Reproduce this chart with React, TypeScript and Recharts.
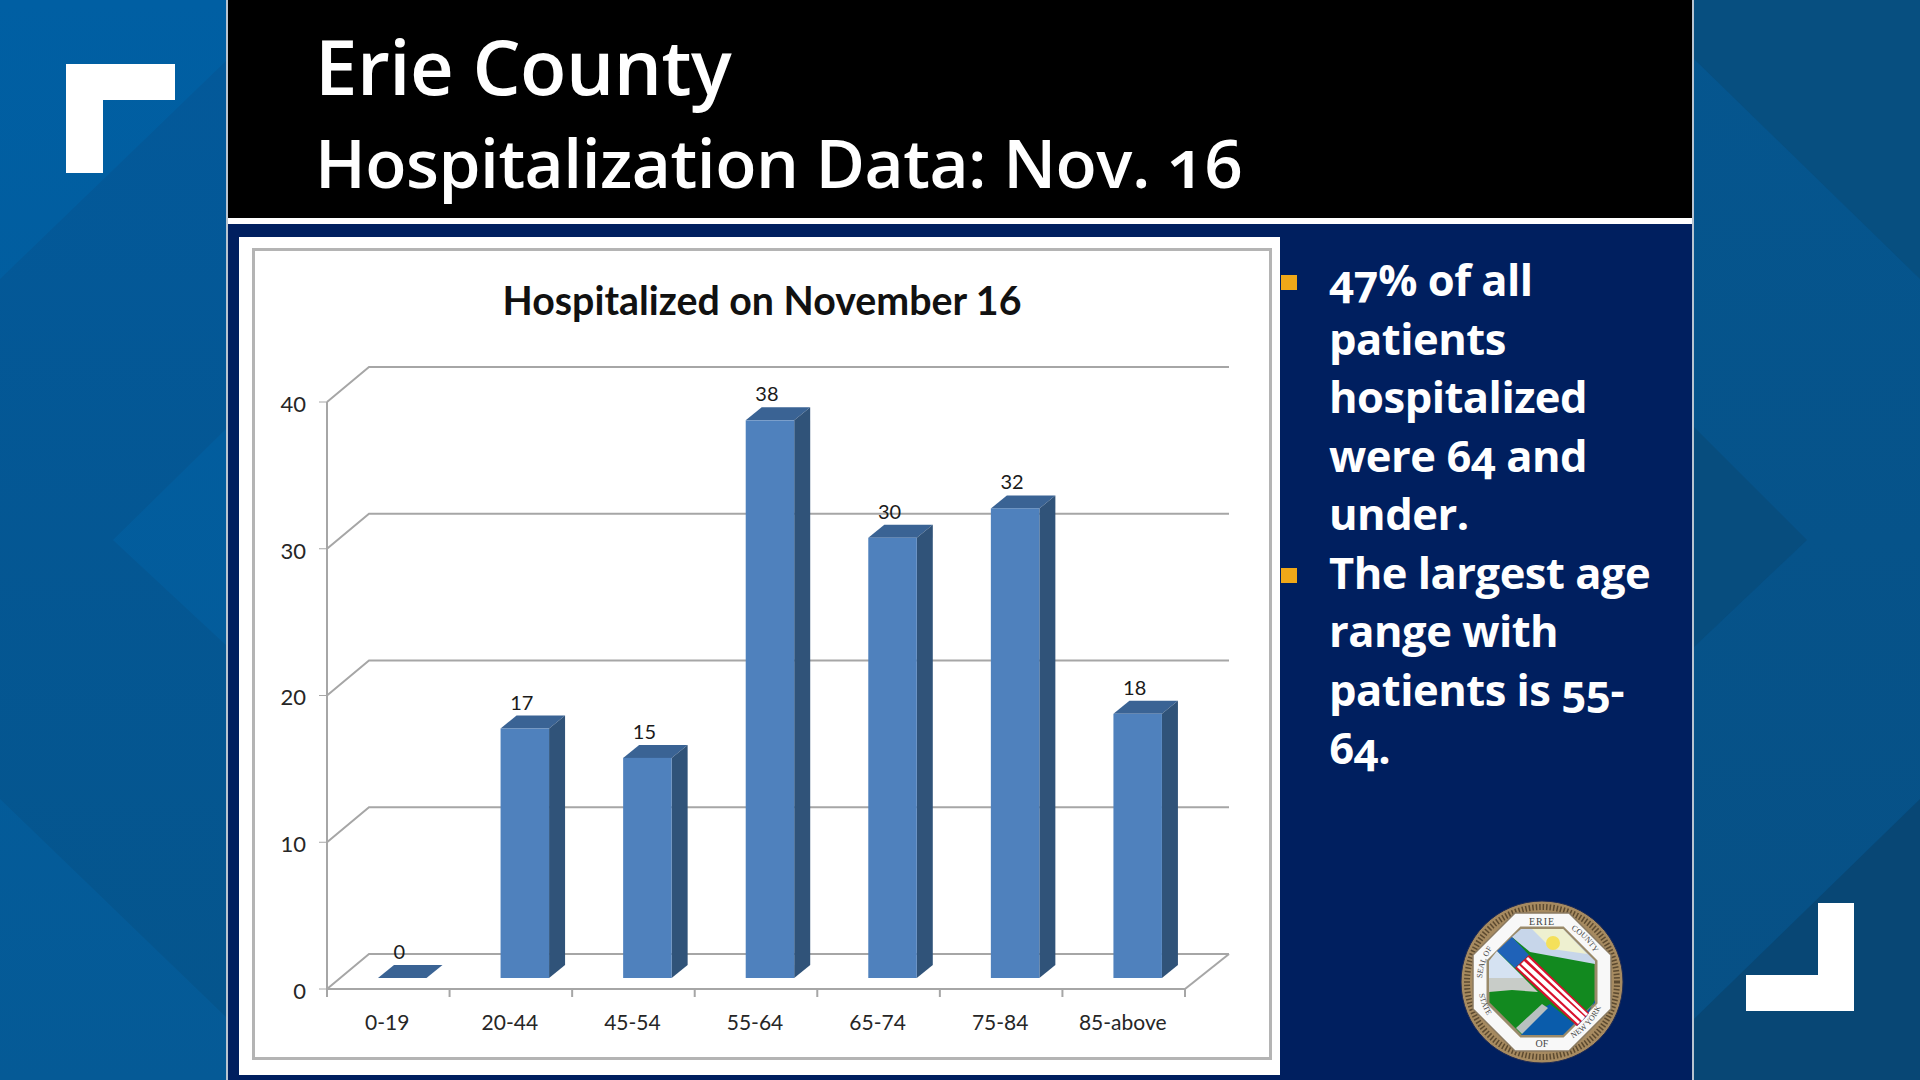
import React from "react";
import { Bar, BarChart, CartesianGrid, LabelList, XAxis, YAxis } from "recharts";

const categories = ["0-19", "20-44", "45-54", "55-64", "65-74", "75-84", "85-above"];
const hospitalized = [0, 17, 15, 38, 30, 32, 18];
const yTicks = [0, 10, 20, 30, 40];
const bulletOne = ["47% of all", "patients", "hospitalized", "were 64 and", "under."];
const bulletTwo = ["The largest age", "range with", "patients is 55-", "64."];

const rows = categories.map((name, i) => ({ name, value: hospitalized[i] }));

// excel style 3d offsets
const WALL_DX = 42;
const WALL_DY = 35;
const WALL_END = 2;
const BAR_DX = 14;
const BAR_DY = 11;
const SIDE_DX = 16;
const SIDE_DY = 13;
const BAND = 858 / categories.length;
const GRID = "#a6a6a6";
const LABEL_FONT = "Lato, sans-serif";
const TEXT_FONT = "'Open Sans', sans-serif";

function Bar3D({ x, y, width, height }: any) {
  const l = x + BAR_DX;
  const r = l + width;
  const t = y - BAR_DY;
  const b = t + height;
  return (
    <g>
      <polygon points={`${l},${t} ${l + SIDE_DX},${t - SIDE_DY} ${r + SIDE_DX},${t - SIDE_DY} ${r},${t}`} fill="#3a6394" />
      {height > 0 && (
        <>
          <polygon points={`${r},${t} ${r + SIDE_DX},${t - SIDE_DY} ${r + SIDE_DX},${b - SIDE_DY} ${r},${b}`} fill="#305379" />
          <rect x={l} y={t} width={width} height={height} fill="#4f81bd" />
        </>
      )}
    </g>
  );
}

function WallLine({ x1, x2, y1, index }: any) {
  return (
    <g key={index}>
      <polyline
        points={`${x1},${y1} ${x1 + WALL_DX},${y1 - WALL_DY} ${x2 + WALL_DX + WALL_END},${y1 - WALL_DY}`}
        fill="none"
        stroke={GRID}
        strokeWidth={2}
      />
      {y1 > 700 ? (
        <line x1={x2} y1={y1} x2={x2 + WALL_DX + WALL_END} y2={y1 - WALL_DY} stroke={GRID} strokeWidth={2} />
      ) : null}
    </g>
  );
}

function BarValue({ x, y, width, value }: any) {
  return (
    <text x={x + width / 2 + 11} y={y - 30} textAnchor="middle" fontSize={20} fill="#1a1a1a" fontFamily={LABEL_FONT}>
      {value}
    </text>
  );
}

function CategoryTick({ x, y, payload, index }: any) {
  const left = x - BAND / 2;
  const last = index === categories.length - 1;
  return (
    <g>
      <line x1={left} y1={y - 8} x2={left} y2={y} stroke={GRID} strokeWidth={2} />
      {last && <line x1={left + BAND} y1={y - 8} x2={left + BAND} y2={y} stroke={GRID} strokeWidth={2} />}
      <text x={x - 1} y={y + 33} textAnchor="middle" fontSize={21} fill="#262626" fontFamily={LABEL_FONT}>
        {payload.value}
      </text>
    </g>
  );
}

function Seal() {
  const serif = "'Liberation Serif', serif";
  return (
    <svg width={170} height={170} viewBox="-85 -85 170 170" style={{ position: "absolute", left: 1457, top: 897 }}>
      <defs>
        <path id="sealTop" d="M -60 0 A 60 60 0 0 1 60 0" />
        <path id="sealBottom" d="M -64 0 A 64 64 0 0 0 64 0" />
      </defs>
      <circle r={81} fill="#a68a60" stroke="#1d2a55" strokeWidth={1} />
      <circle r={75} fill="none" stroke="#5c4a30" strokeWidth={6} strokeDasharray="1.5 2" />
      <polygon points="-27,-69 27,-69 69,-27 69,27 27,69 -27,69 -69,27 -69,-27" fill="#f8f8f8" stroke="#8a7a60" strokeWidth={1.5} />
      <polygon points="-21,-54 21,-54 54,-21 54,21 21,54 -21,54 -54,21 -54,-21" fill="#12891f" stroke="#9a8a6a" strokeWidth={3} />
      <polygon points="-21,-53 21,-53 53,-21 53,-18 -12,-30 -30,-45" fill="#c7d6ea" />
      <polygon points="-10,-53 21,-53 45,-28 10,-33" fill="#eef0d0" />
      <circle cx={11} cy={-39} r={7} fill="#f4e05a" />
      <polygon points="-53,-21 -45,-31 -18,-4 -53,-4" fill="#d5e2f2" />
      <polygon points="-53,-4 -18,-4 -4,10 -30,8 -53,10" fill="#c8ccc8" />
      <polygon points="-21,53 -2,28 8,22 35,44 45,34 53,18 53,21 21,53" fill="#0a5cab" />
      <polygon points="-26,46 0,22 6,26 -20,52" fill="#b8c0c0" />
      <polygon points="-45,-31 -30,-45 -13,-27 -27,-14" fill="#1f62b8" />
      <polygon points="-27,-14 -13,-27 47,31 35,44" fill="#d8112c" />
      <polygon points="-21,-18 -18,-21 43,35 40,39" fill="#ffffff" />
      <polygon points="-25,-15 -23,-17 38,40 36,42" fill="#ffffff" />
      <polygon points="-16,-23 -14,-25 46,32 44,34" fill="#ffffff" />
      <text y={-57} textAnchor="middle" fontSize={10} fill="#444" fontFamily={serif} letterSpacing={1}>ERIE</text>
      <text y={65} textAnchor="middle" fontSize={10} fill="#444" fontFamily={serif}>OF</text>
      <text fontSize={8} fill="#444" fontFamily={serif}>
        <textPath href="#sealTop" startOffset="2%">SEAL OF</textPath>
      </text>
      <text fontSize={8} fill="#444" fontFamily={serif}>
        <textPath href="#sealTop" startOffset="66%">COUNTY</textPath>
      </text>
      <text fontSize={8} fill="#444" fontFamily={serif}>
        <textPath href="#sealBottom" startOffset="6%">STATE</textPath>
      </text>
      <text fontSize={8} fill="#444" fontFamily={serif}>
        <textPath href="#sealBottom" startOffset="66%">NEW YORK</textPath>
      </text>
    </svg>
  );
}

function Panels() {
  return (
    <svg width={1920} height={1080} style={{ position: "absolute", left: 0, top: 0 }}>
      <defs>
        <linearGradient id="leftBase" x1="0" y1="0" x2="0" y2="1">
          <stop offset="0" stopColor="#005fa3" />
          <stop offset="1" stopColor="#055a96" />
        </linearGradient>
        <linearGradient id="leftBand" x1="0" y1="0" x2="0" y2="1">
          <stop offset="0" stopColor="#03599a" />
          <stop offset="1" stopColor="#05558d" />
        </linearGradient>
        <linearGradient id="rightBand" x1="0" y1="0" x2="0" y2="1">
          <stop offset="0" stopColor="#05568f" />
          <stop offset="1" stopColor="#075085" />
        </linearGradient>
      </defs>
      <rect x={0} y={0} width={228} height={1080} fill="url(#leftBase)" />
      <polygon points="0,279 228,59 228,427 113,540 228,647 228,1019 0,799" fill="url(#leftBand)" />
      <rect x={1694} y={0} width={226} height={1080} fill="url(#rightBand)" />
      <polygon points="1694,0 1920,0 1920,279 1694,59" fill="#074f80" />
      <polygon points="1694,427 1807,540 1694,647" fill="#074d7e" />
      <polygon points="1694,1019 1920,799 1920,1080 1694,1080" fill="#084775" />
      <polygon points="66,64 175,64 175,100 103,100 103,173 66,173" fill="#ffffff" />
      <polygon points="1818,903 1854,903 1854,1011 1746,1011 1746,975 1818,975" fill="#ffffff" />
    </svg>
  );
}

export default function App() {
  return (
    <div style={{ position: "absolute", left: 0, top: 0, width: 1920, height: 1080, overflow: "hidden" }}>
      <Panels />
      <div style={{ position: "absolute", left: 226, top: 0, width: 1468, height: 1080, background: "#001f5f", borderLeft: "2px solid #b8c4d0", borderRight: "2px solid #b8c4d0", boxSizing: "border-box" }} />
      <div style={{ position: "absolute", left: 228, top: 0, width: 1464, height: 218, background: "#000" }} />
      <div style={{ position: "absolute", left: 228, top: 218, width: 1464, height: 6, background: "#fff" }} />
      <div style={{ position: "absolute", left: 315, top: 18, color: "#fff", fontFamily: TEXT_FONT, fontWeight: 600, fontSize: 76, lineHeight: "96px", fontVariantNumeric: "oldstyle-nums", letterSpacing: -0.5, whiteSpace: "nowrap" }}>
        <div>Erie County</div>
        <div style={{ fontSize: 67.6 }}>Hospitalization Data: Nov. 16</div>
      </div>
      <div style={{ position: "absolute", left: 239, top: 237, width: 1041, height: 838, background: "#fff" }} />
      <div style={{ position: "absolute", left: 252, top: 248, width: 1020, height: 812, boxSizing: "border-box", border: "3px solid #b4b4b4" }} />
      <div style={{ position: "absolute", left: 252, top: 276, width: 1020, textAlign: "center", fontFamily: LABEL_FONT, fontWeight: 700, fontSize: 39.3, color: "#111", whiteSpace: "nowrap" }}>
        Hospitalized on November 16
      </div>
      <div style={{ position: "absolute", left: 252, top: 248 }}>
        <BarChart
          width={1020}
          height={812}
          data={rows}
          barSize={48.5}
          margin={{ top: 154, right: 87, bottom: 31, left: 15 }}
        >
          <CartesianGrid vertical={false} horizontal={(p: any) => <WallLine {...p} />} />
          <XAxis
            dataKey="name"
            height={40}
            interval={0}
            tickLine={false}
            axisLine={{ stroke: GRID, strokeWidth: 2 }}
            tick={<CategoryTick />}
          />
          <YAxis
            width={60}
            domain={[0, 40]}
            ticks={yTicks}
            interval={0}
            tick={{ fill: "#262626", fontSize: 22, fontFamily: LABEL_FONT, dy: 2 }}
            tickSize={8}
            tickMargin={13}
            stroke={GRID}
            axisLine={{ stroke: GRID, strokeWidth: 2 }}
          />
          <Bar dataKey="value" shape={<Bar3D />} isAnimationActive={false}>
            <LabelList dataKey="value" content={<BarValue />} />
          </Bar>
        </BarChart>
      </div>
      <div style={{ position: "absolute", left: 1281, top: 275, width: 16, height: 15, background: "#f0a818" }} />
      <div style={{ position: "absolute", left: 1281, top: 568, width: 16, height: 15, background: "#f0a818" }} />
      <div style={{ position: "absolute", left: 1329, top: 251, color: "#fff", fontFamily: TEXT_FONT, fontWeight: 700, fontSize: 43.5, lineHeight: "58.5px", fontVariantNumeric: "oldstyle-nums", letterSpacing: -0.5, whiteSpace: "nowrap" }}>
        {[...bulletOne, ...bulletTwo].map((line) => (
          <div key={line}>{line}</div>
        ))}
      </div>
      <Seal />
    </div>
  );
}
